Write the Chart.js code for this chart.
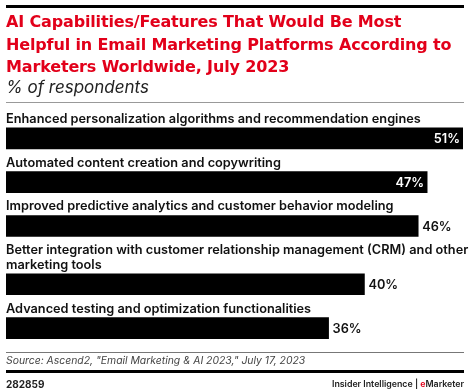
<!DOCTYPE html>
<html>
<head>
<meta charset="utf-8">
<script src="https://cdn.jsdelivr.net/npm/chart.js@4"></script>
<style>
  body { margin: 0; width: 470px; height: 392px; background: #fff; font-family: Inter, "Open Sans", sans-serif; position: relative; overflow: hidden; }
  #title { position: absolute; left: 6px; top: 11px; white-space: nowrap; font-family: "DejaVu Sans", sans-serif; font-size: 16px; font-weight: 700; color: #e2001a; line-height: 22.5px; letter-spacing: -0.15px; }
  #subtitle { position: absolute; left: 6px; top: 77px; font-size: 17px; font-style: italic; color: #222; }
  #chartBox { position: absolute; left: 0; top: 0; width: 470px; height: 392px; }
  #source { position: absolute; left: 6px; top: 354px; font-size: 10.4px; font-style: italic; color: #444; }
  #code { position: absolute; left: 6px; top: 378px; font-size: 10px; font-weight: 700; color: #222; }
  #brand { position: absolute; right: 6px; top: 378px; font-size: 8.8px; font-weight: 600; color: #222; }
  #brand span { color: #e2001a; }
</style>
</head>
<body>
<div id="chartBox"><canvas id="chart"></canvas></div>
<div id="title">AI Capabilities/Features That Would Be Most<br>Helpful in Email Marketing Platforms According to<br>Marketers Worldwide, July 2023</div>
<div id="subtitle">% of respondents</div>
<div id="source">Source: Ascend2, "Email Marketing &amp; AI 2023," July 17, 2023</div>
<div id="code">282859</div>
<div id="brand">Insider Intelligence | <span>e</span>Marketer</div>
<script>
// each category may wrap onto several lines
let categories = [
  ["Enhanced personalization algorithms and recommendation engines"],
  ["Automated content creation and copywriting"],
  ["Improved predictive analytics and customer behavior modeling"],
  ["Better integration with customer relationship management (CRM) and other", "marketing tools"],
  ["Advanced testing and optimization functionalities"],
];
let values = [51, 47, 46, 40, 36];

// rows with extra label lines get pushed down a bit
let extraLine = 0.33;
let positions = [];
let pos = 0;
for (let i = 0; i < categories.length; i++) {
  if (i > 0) pos += 1 + extraLine * (categories[i].length - 1);
  positions.push(pos);
}

let points = values.map((v, i) => ({ x: v, y: positions[i] }));

const labelFont = "600 12.75px Inter, 'Open Sans', sans-serif";

// horizontal rules of the page frame (top, under subtitle, above source, footer)
const rules = [
  { y: 6.5, w: 3, color: "#000" },
  { y: 102.5, w: 1, color: "#999" },
  { y: 352.5, w: 1, color: "#777" },
  { y: 371.5, w: 3, color: "#000" },
];

const labelPlugin = {
  id: "rowLabels",
  afterDraw(chart) {
    let ctx = chart.ctx;
    let meta = chart.getDatasetMeta(0);
    let area = chart.chartArea;
    ctx.save();
    rules.forEach((r) => {
      ctx.beginPath();
      ctx.strokeStyle = r.color;
      ctx.lineWidth = r.w;
      ctx.moveTo(6, r.y);
      ctx.lineTo(464, r.y);
      ctx.stroke();
    });
    ctx.font = labelFont;
    meta.data.forEach((bar, i) => {
      let top = bar.y - bar.height / 2;
      let lines = categories[i];
      ctx.fillStyle = "#111";
      ctx.textAlign = "left";
      ctx.textBaseline = "alphabetic";
      for (let k = 0; k < lines.length; k++) {
        let base = top - 5 - (lines.length - 1 - k) * 14.5;
        ctx.fillText(lines[k], area.left, base);
      }
      let txt = values[i] + "%";
      let w = ctx.measureText(txt).width;
      ctx.textBaseline = "middle";
      if (bar.x + 4 + w > area.right - 8) {
        ctx.fillStyle = "#fff";
        ctx.textAlign = "right";
        ctx.fillText(txt, bar.x - 3, bar.y + 1);
      } else {
        ctx.fillStyle = "#111";
        ctx.textAlign = "left";
        ctx.fillText(txt, bar.x + 4, bar.y + 1);
      }
    });
    ctx.restore();
  },
};

new Chart(document.querySelector("#chart"), {
  type: "bar",
  data: {
    datasets: [
      {
        data: points,
        backgroundColor: "#000",
        borderWidth: 0,
        barThickness: 21,
      },
    ],
  },
  options: {
    indexAxis: "y",
    responsive: true,
    maintainAspectRatio: false,
    animation: false,
    layout: { padding: { left: 6, right: 7, top: 105, bottom: 42 } },
    plugins: { legend: { display: false }, tooltip: { enabled: false } },
    scales: {
      x: { type: "linear", min: 0, max: 51, display: false },
      y: { type: "linear", reverse: true, offset: false, min: -0.76, max: 4.83, display: false },
    },
  },
  plugins: [labelPlugin],
});
</script>
</body>
</html>
